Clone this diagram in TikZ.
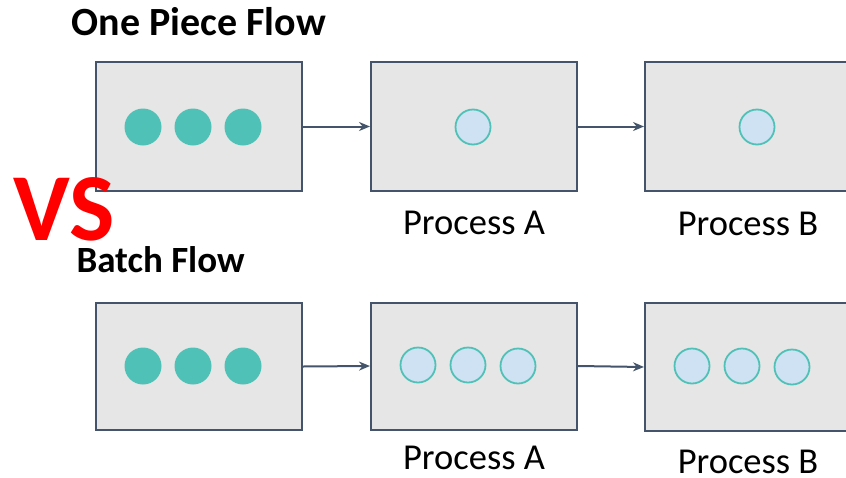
\documentclass[tikz,border=0pt]{standalone}
\usepackage{fontspec}
\setmainfont{Carlito}
\usetikzlibrary{arrows.meta, positioning}
\definecolor{boxgray}{HTML}{E6E6E6}
\definecolor{boxedge}{HTML}{44546A}
\definecolor{pieceteal}{HTML}{4FC1B6}
\definecolor{pieceblue}{HTML}{CFE2F3}
\definecolor{vsred}{HTML}{FF0000}

\begin{document}
\begin{tikzpicture}[
  x=1pt, y=-1pt,
  stationbox/.style={rectangle, draw=boxedge, fill=boxgray, line width=2pt, minimum width=206pt, minimum height=#1, inner sep=0pt},
  stationbox/.default=129pt,
  fullpiece/.style={circle, fill=pieceteal, minimum size=37pt, inner sep=0pt},
  waitpiece/.style={circle, draw=pieceteal, fill=pieceblue, line width=1.8pt, minimum size=35pt, inner sep=0pt},
  flowarrow/.style={draw=boxedge, line width=2pt, -{Stealth[length=11pt, width=9pt]}},
  proclabel/.style={font=\fontsize{36.5}{42}\selectfont, anchor=base},
  flowtitle/.style={font=\fontsize{40}{46}\selectfont\bfseries, anchor=base west},
]
\useasboundingbox (0,0) rectangle (846,477);
\clip (0,0) rectangle (846,477);

% One piece flow
\node[flowtitle] (t1) at (68,35) {One Piece Flow};
\node[stationbox] (s1) at (199,126.5) {};
\node[stationbox] (s2) at (474,126.5) {};
\node[stationbox] (s3) at (748,126.5) {};
\node[fullpiece] (s1p1) at (143,127) {};
\node[fullpiece] (s1p2) at (193,127) {};
\node[fullpiece] (s1p3) at (243,127) {};
\node[waitpiece] (s2p1) at (473,127) {};
\node[waitpiece] (s3p1) at (757,127) {};
\node[proclabel] (l2) at (474,234) {Process A};
\node[proclabel] (l3) at (748,235) {Process B};
\draw[flowarrow] (s1.east) -- (s2.west);
\draw[flowarrow] (s2.east) -- (s3.west);

% Batch flow
\node[flowtitle, font=\fontsize{37}{43}\selectfont\bfseries] (t2) at (73,272) {Batch Flow};
\node[stationbox=127pt] (b1) at (199,366.5) {};
\node[stationbox=127pt] (b2) at (474,366) {};
\node[stationbox=128pt] (b3) at (748,367) {};
\node[fullpiece] (b1p1) at (143,366) {};
\node[fullpiece] (b1p2) at (193,366) {};
\node[fullpiece] (b1p3) at (243,366) {};
\node[waitpiece] (b2p1) at (418,365) {};
\node[waitpiece] (b2p2) at (468,365) {};
\node[waitpiece] (b2p3) at (518,366) {};
\node[waitpiece] (b3p1) at (692,366) {};
\node[waitpiece] (b3p2) at (742,366) {};
\node[waitpiece] (b3p3) at (792,367) {};
\node[proclabel] (m2) at (474,469) {Process A};
\node[proclabel] (m3) at (748,473) {Process B};
\draw[flowarrow] (b1.east) -- (b2.west);
\draw[flowarrow] (b2.east) -- (b3.west);

% VS mark over the first box
\node[font=\fontsize{96}{110}\selectfont\bfseries, text=vsred, anchor=base west, inner sep=0pt] (vs) at (13,240) {VS};

\end{tikzpicture}
\end{document}
